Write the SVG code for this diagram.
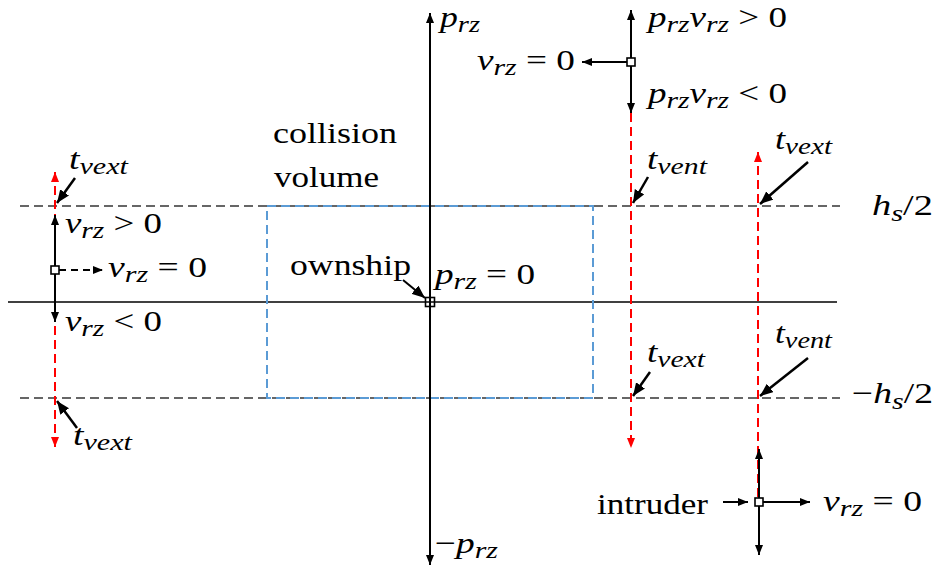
<svg xmlns="http://www.w3.org/2000/svg" width="941" height="573" viewBox="0 0 941 573">
<style>
.i{font-style:italic}
.s{font-size:24px;font-style:italic}
.gd{stroke:#666;stroke-width:2;stroke-dasharray:9 5;fill:none}
.rd{stroke:#ff0000;stroke-width:2;stroke-dasharray:9 5;fill:none}
.bk{stroke:#000;stroke-width:2;fill:none}
.lab{stroke:#000;stroke-width:2.5;fill:none}
.sq{fill:#fff;stroke:#000;stroke-width:1.6}
</style>
<defs>
<marker id="ah" viewBox="0 0 10 8" refX="10" refY="4" markerWidth="10" markerHeight="8" markerUnits="userSpaceOnUse" orient="auto-start-reverse"><path d="M0,0 L10,4 L0,8 z" fill="#000"/></marker>
<marker id="ahr" viewBox="0 0 10 8" refX="10" refY="4" markerWidth="10" markerHeight="8" markerUnits="userSpaceOnUse" orient="auto-start-reverse"><path d="M0,0 L10,4 L0,8 z" fill="#ff0000"/></marker>
<marker id="ahb" viewBox="0 0 12 10" refX="12" refY="5" markerWidth="13" markerHeight="11" markerUnits="userSpaceOnUse" orient="auto"><path d="M0,0 L12,5 L0,10 z" fill="#000"/></marker>
</defs>

<g id="guides">
<line class="gd" x1="20" y1="206" x2="840" y2="206"/>
<line class="gd" x1="20" y1="398" x2="840" y2="398"/>
<line x1="8" y1="302" x2="837" y2="302" stroke="#000" stroke-width="1.4"/>
</g>

<g font-family="Liberation Serif, 'Times New Roman', serif" font-size="30" fill="#000">
<g id="collision-volume">
<rect x="267" y="206" width="326" height="192" fill="none" stroke="#5b9bd5" stroke-width="2" stroke-dasharray="9 5"/>
<text x="273" y="143" textLength="124" lengthAdjust="spacingAndGlyphs">collision</text>
<text x="274" y="187" textLength="105" lengthAdjust="spacingAndGlyphs">volume</text>
</g>

<g id="connectors">
<line class="bk" x1="430" y1="13" x2="430" y2="565" marker-start="url(#ah)" marker-end="url(#ah)"/>
<line class="rd" x1="55" y1="172" x2="55" y2="447" marker-start="url(#ahr)" marker-end="url(#ahr)"/>
<line class="bk" x1="55" y1="215" x2="55" y2="322" marker-start="url(#ah)" marker-end="url(#ah)"/>
<line x1="59" y1="270" x2="103" y2="270" stroke="#000" stroke-width="2" stroke-dasharray="7 5" marker-end="url(#ah)"/>
<line class="rd" x1="631" y1="113" x2="631" y2="448" marker-end="url(#ahr)"/>
<line class="bk" x1="631" y1="10" x2="631" y2="113" marker-start="url(#ah)" marker-end="url(#ah)"/>
<line class="bk" x1="627" y1="62" x2="582" y2="62" marker-end="url(#ah)"/>
<line class="rd" x1="758" y1="152" x2="758" y2="500" marker-start="url(#ahr)"/>
<line class="bk" x1="759" y1="449" x2="759" y2="555" marker-start="url(#ah)" marker-end="url(#ah)"/>
<line class="bk" x1="723" y1="502" x2="748" y2="502" marker-end="url(#ah)"/>
<line class="bk" x1="763" y1="502" x2="810" y2="502" marker-end="url(#ah)"/>
<line class="bk" x1="403" y1="280" x2="425" y2="298" marker-end="url(#ahb)"/>
<line class="lab" x1="75" y1="178" x2="57" y2="203" marker-end="url(#ahb)"/>
<line class="lab" x1="77" y1="428" x2="57" y2="401" marker-end="url(#ahb)"/>
<line class="lab" x1="648" y1="177" x2="633" y2="203" marker-end="url(#ahb)"/>
<line class="lab" x1="808" y1="162" x2="760" y2="204" marker-end="url(#ahb)"/>
<line class="lab" x1="650" y1="372" x2="633" y2="396" marker-end="url(#ahb)"/>
<line class="lab" x1="808" y1="358" x2="760" y2="396" marker-end="url(#ahb)"/>
</g>

<g id="ownship">
<rect x="425.5" y="297.5" width="9" height="9" fill="none" stroke="#000" stroke-width="1.6"/>
<text x="290" y="275" textLength="121" lengthAdjust="spacingAndGlyphs">ownship</text>
<text x="435" y="284" textLength="100" lengthAdjust="spacingAndGlyphs"><tspan class="i">p</tspan><tspan class="s" dy="5">rz</tspan><tspan dy="-5"> = 0</tspan></text>
</g>

<g id="axis-labels">
<text x="440" y="27" textLength="40" lengthAdjust="spacingAndGlyphs"><tspan class="i">p</tspan><tspan class="s" dy="5">rz</tspan></text>
<text x="435" y="553" textLength="63" lengthAdjust="spacingAndGlyphs">−<tspan class="i">p</tspan><tspan class="s" dy="5">rz</tspan></text>
<text x="872" y="215" textLength="61" lengthAdjust="spacingAndGlyphs"><tspan class="i">h</tspan><tspan class="s" dy="6">s</tspan><tspan dy="-6">/2</tspan></text>
<text x="852" y="403" textLength="81" lengthAdjust="spacingAndGlyphs">−<tspan class="i">h</tspan><tspan class="s" dy="6">s</tspan><tspan dy="-6">/2</tspan></text>
</g>

<g id="left-intruder">
<rect class="sq" x="51" y="266" width="8" height="8"/>
<text x="65" y="233" textLength="97" lengthAdjust="spacingAndGlyphs"><tspan class="i">v</tspan><tspan class="s" dy="5">rz</tspan><tspan dy="-5"> &gt; 0</tspan></text>
<text x="108" y="277" textLength="99" lengthAdjust="spacingAndGlyphs"><tspan class="i">v</tspan><tspan class="s" dy="5">rz</tspan><tspan dy="-5"> = 0</tspan></text>
<text x="65" y="331" textLength="97" lengthAdjust="spacingAndGlyphs"><tspan class="i">v</tspan><tspan class="s" dy="5">rz</tspan><tspan dy="-5"> &lt; 0</tspan></text>
<text x="69" y="169" textLength="59" lengthAdjust="spacingAndGlyphs"><tspan class="i">t</tspan><tspan class="s" dy="5">vext</tspan></text>
<text x="73" y="445" textLength="59" lengthAdjust="spacingAndGlyphs"><tspan class="i">t</tspan><tspan class="s" dy="5">vext</tspan></text>
</g>

<g id="top-intruder">
<rect class="sq" x="627" y="58" width="8" height="8"/>
<text x="477" y="70" textLength="98" lengthAdjust="spacingAndGlyphs"><tspan class="i">v</tspan><tspan class="s" dy="5">rz</tspan><tspan dy="-5"> = 0</tspan></text>
<text x="648" y="27" textLength="139" lengthAdjust="spacingAndGlyphs"><tspan class="i">p</tspan><tspan class="s" dy="5">rz</tspan><tspan class="i" dy="-5">v</tspan><tspan class="s" dy="5">rz</tspan><tspan dy="-5"> &gt; 0</tspan></text>
<text x="648" y="103" textLength="139" lengthAdjust="spacingAndGlyphs"><tspan class="i">p</tspan><tspan class="s" dy="5">rz</tspan><tspan class="i" dy="-5">v</tspan><tspan class="s" dy="5">rz</tspan><tspan dy="-5"> &lt; 0</tspan></text>
<text x="647" y="169" textLength="60" lengthAdjust="spacingAndGlyphs"><tspan class="i">t</tspan><tspan class="s" dy="5">vent</tspan></text>
<text x="647" y="362" textLength="58" lengthAdjust="spacingAndGlyphs"><tspan class="i">t</tspan><tspan class="s" dy="5">vext</tspan></text>
</g>

<g id="intruder">
<rect class="sq" x="755" y="498" width="8" height="8"/>
<text x="597" y="514" textLength="111" lengthAdjust="spacingAndGlyphs">intruder</text>
<text x="823" y="511" textLength="99" lengthAdjust="spacingAndGlyphs"><tspan class="i">v</tspan><tspan class="s" dy="5">rz</tspan><tspan dy="-5"> = 0</tspan></text>
<text x="775" y="149" textLength="57" lengthAdjust="spacingAndGlyphs"><tspan class="i">t</tspan><tspan class="s" dy="5">vext</tspan></text>
<text x="775" y="343" textLength="57" lengthAdjust="spacingAndGlyphs"><tspan class="i">t</tspan><tspan class="s" dy="5">vent</tspan></text>
</g>
</g>
</svg>
